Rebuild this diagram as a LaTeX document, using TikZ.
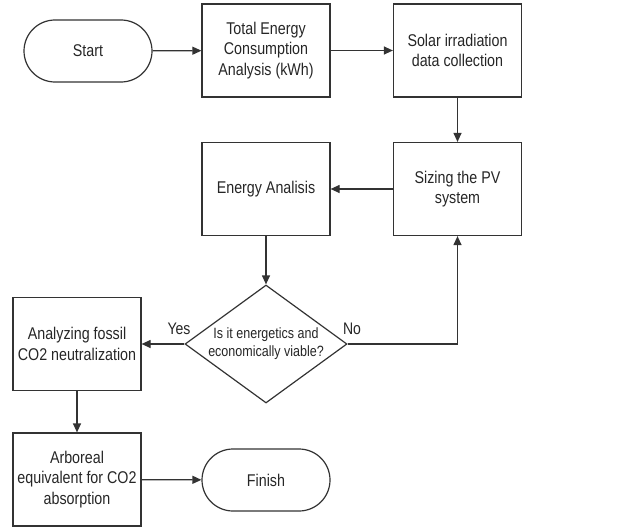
\documentclass[tikz,border=0pt]{standalone}
\usepackage{fontspec}
\setmainfont[FakeStretch=0.84]{Liberation Sans}
\usetikzlibrary{shapes.geometric,shapes.misc,arrows.meta}
\begin{document}
\begin{tikzpicture}[x=1pt,y=-1pt,
  every node/.style={font=\fontsize{17}{20.5}\selectfont, align=center, inner sep=0pt, text=black!85},
  box/.style={draw=black!80, line width=1.2pt, minimum width=128pt, minimum height=93pt},
  term/.style={draw=black!80, line width=1.2pt, rounded rectangle, minimum width=128pt, minimum height=62pt},
  dec/.style={draw=black!80, line width=1.2pt, diamond, aspect=1.37, minimum width=162pt, minimum height=118pt, inner sep=-6pt, font=\fontsize{14.9}{18}\selectfont},
  lbl/.style={font=\fontsize{16.7}{18}\selectfont},
  arr/.style={draw=black!80, line width=1.2pt, -{Triangle[length=9pt,width=8pt]}}]
\useasboundingbox (0,0) rectangle (628,527);
\node[term] (start) at (88,51) {Start};
\node[box] (tec) at (266,50.5) {Total Energy\\Consumption\\Analysis (kWh)};
\node[box] (solar) at (457.5,50.5) {Solar irradiation\\data collection};
\node[box] (sizing) at (457.5,189) {Sizing the PV\\system};
\node[box] (ea) at (266,189) {Energy Analisis};
\node[dec] (dec) at (266,344) {Is it energetics and\\economically viable?};
\node[box] (fossil) at (77,344) {Analyzing fossil\\CO2 neutralization};
\node[box] (arb) at (77,479.5) {Arboreal\\equivalent for CO2\\absorption};
\node[term] (finish) at (266,480) {Finish};
\node[lbl] (yes) at (179,329) {Yes};
\node[lbl] (no) at (352,329) {No};
\draw[arr] (start) -- (tec);
\draw[arr] (tec) -- (solar);
\draw[arr] (solar) -- (sizing);
\draw[arr] (sizing) -- (ea);
\draw[arr] (ea) -- (dec);
\draw[arr] (dec.west) -- (fossil);
\draw[arr] (dec.east) -| (sizing.south);
\draw[arr] (fossil) -- (arb);
\draw[arr] (arb) -- (finish);
\end{tikzpicture}
\end{document}
